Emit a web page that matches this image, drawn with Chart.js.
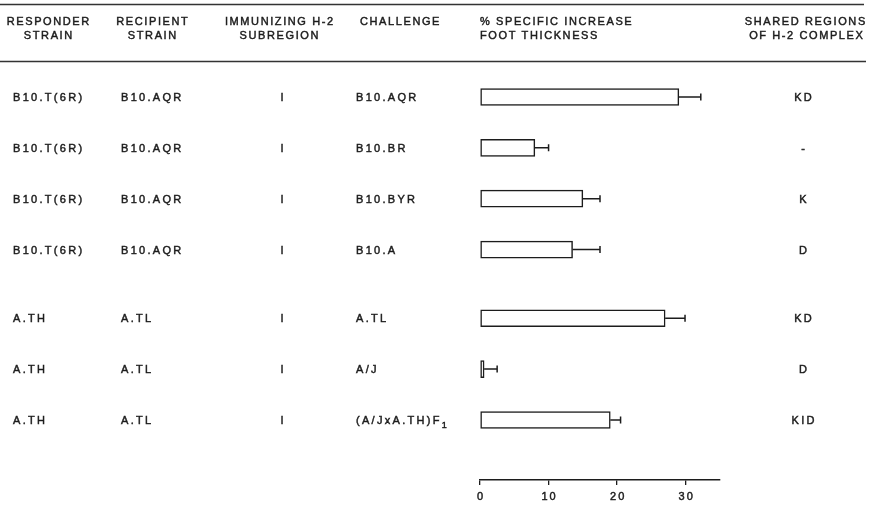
<!DOCTYPE html>
<html>
<head>
<meta charset="utf-8">
<script src="https://cdn.jsdelivr.net/npm/chart.js@4/dist/chart.umd.min.js"></script>
<style>
  html, body { margin: 0; padding: 0; background: #fff; }
  #wrap { width: 871px; height: 505px; position: relative; }
</style>
</head>
<body>
<div id="wrap"><canvas id="c" width="871" height="505"></canvas></div>
<script>
// Table columns, one entry per experiment row
const responder = ['B10.T(6R)', 'B10.T(6R)', 'B10.T(6R)', 'B10.T(6R)', 'A.TH', 'A.TH', 'A.TH'];
const recipient = ['B10.AQR', 'B10.AQR', 'B10.AQR', 'B10.AQR', 'A.TL', 'A.TL', 'A.TL'];
const subregion = ['I', 'I', 'I', 'I', 'I', 'I', 'I'];
const challenge = ['B10.AQR', 'B10.BR', 'B10.BYR', 'B10.A', 'A.TL', 'A/J', '(A/JxA.TH)F'];
const challengeSub = ['', '', '', '', '', '', '1'];
const shared = ['KD', '-', 'K', 'D', 'KD', 'D', 'KID'];
const group = [0, 0, 0, 0, 1, 1, 1];

// % specific increase in foot thickness and its error
const increase = [29, 8, 15, 13.5, 27, 0.6, 19];
const sem = [3.2, 2.0, 2.5, 4.0, 2.9, 1.9, 1.5];

const xTicks = [0, 10, 20, 30];

// Row slot on the vertical axis: rows are evenly spaced, groups separated by a small extra gap
const GROUP_GAP = 0.35;
const rowPos = increase.map((_, i) => i + group[i] * GROUP_GAP);

const INK = '#1c1c1c';
const FONT = '"Liberation Sans", Arial, sans-serif';

function txt(ctx, s, x, y, align, size, spacing) {
  ctx.save();
  ctx.font = size + 'px ' + FONT;
  ctx.letterSpacing = spacing + 'px';
  ctx.fillStyle = INK;
  ctx.strokeStyle = INK;
  ctx.lineWidth = 0.45;
  ctx.textBaseline = 'alphabetic';
  const w = ctx.measureText(s).width - spacing;
  let left = x;
  if (align === 'center') left = x - w / 2;
  else if (align === 'right') left = x - w;
  ctx.textAlign = 'left';
  ctx.fillText(s, left, y);
  ctx.strokeText(s, left, y);
  ctx.restore();
  return left + w + spacing;
}

const errorBars = {
  id: 'errorBars',
  afterDatasetsDraw(chart) {
    const ctx = chart.ctx, xs = chart.scales.x, ys = chart.scales.y;
    ctx.save();
    ctx.strokeStyle = INK;
    ctx.lineWidth = 1.5;
    increase.forEach((v, i) => {
      const x0 = xs.getPixelForValue(v);
      const x1 = xs.getPixelForValue(v + sem[i]);
      const y = ys.getPixelForValue(rowPos[i]);
      ctx.beginPath();
      ctx.moveTo(x0, y);
      ctx.lineTo(x1, y);
      ctx.moveTo(x1, y - 3.5);
      ctx.lineTo(x1, y + 3.5);
      ctx.stroke();
    });
    ctx.restore();
  }
};

const table = {
  id: 'table',
  afterDraw(chart) {
    const ctx = chart.ctx, xs = chart.scales.x, ys = chart.scales.y;
    // header rules
    ctx.save();
    ctx.strokeStyle = '#333';
    ctx.lineWidth = 1.3;
    ctx.beginPath();
    ctx.moveTo(0, 4.5); ctx.lineTo(864, 4.5);
    ctx.moveTo(0, 61.5); ctx.lineTo(866, 61.5);
    ctx.stroke();
    ctx.restore();

    const H = 11, HS = 1.6;
    txt(ctx, 'RESPONDER', 48, 25, 'center', H, HS);
    txt(ctx, 'STRAIN', 48, 39, 'center', H, HS);
    txt(ctx, 'RECIPIENT', 152, 25, 'center', H, HS);
    txt(ctx, 'STRAIN', 152, 39, 'center', H, HS);
    txt(ctx, 'IMMUNIZING H-2', 279, 25, 'center', H, HS);
    txt(ctx, 'SUBREGION', 279, 39, 'center', H, HS);
    txt(ctx, 'CHALLENGE', 360, 25, 'left', H, HS);
    txt(ctx, '% SPECIFIC INCREASE', 480, 25, 'left', H, HS);
    txt(ctx, 'FOOT THICKNESS', 480, 39, 'left', H, HS);
    txt(ctx, 'SHARED REGIONS', 805, 25, 'center', H, HS);
    txt(ctx, 'OF H-2 COMPLEX', 806, 39, 'center', H, HS);

    const R = 11, RS = 2.3;
    rowPos.forEach((p, i) => {
      const y = ys.getPixelForValue(p) + 4;
      txt(ctx, responder[i], 13, y, 'left', R, RS);
      txt(ctx, recipient[i], 121, y, 'left', R, RS);
      txt(ctx, subregion[i], 282, y, 'center', R, RS);
      const end = txt(ctx, challenge[i], 356, y, 'left', R, RS);
      if (challengeSub[i]) txt(ctx, challengeSub[i], end, y + 4, 'left', 9, 0);
      txt(ctx, shared[i], 803, y, 'center', R, RS);
    });

    // value axis labels, placed by the x scale
    xTicks.forEach(v => txt(ctx, String(v), xs.getPixelForValue(v), 499.5, 'center', 11, 2));
  }
};

new Chart(document.getElementById('c'), {
  type: 'bar',
  data: {
    datasets: [{
      data: increase.map((v, i) => ({ x: v, y: rowPos[i] })),
      backgroundColor: '#ffffff',
      borderColor: INK,
      borderWidth: 1.5,
      borderSkipped: false,
      barThickness: 17
    }]
  },
  options: {
    indexAxis: 'y',
    responsive: false,
    animation: false,
    devicePixelRatio: 1,
    layout: { padding: { left: 480, right: 151, top: 70, bottom: 0 } },
    plugins: { legend: { display: false }, tooltip: { enabled: false } },
    scales: {
      x: {
        type: 'linear',
        position: 'bottom',
        min: 0,
        max: 35,
        offset: false,
        grid: { drawOnChartArea: false, drawTicks: true, tickLength: 5, tickColor: INK, lineWidth: 1.3 },
        border: { display: true, color: INK, width: 1.5 },
        ticks: { stepSize: 10, includeBounds: false, display: false },
        afterBuildTicks(s) { s.ticks = xTicks.map(v => ({ value: v })); },
        afterFit(s) { s.height = 25; }
      },
      y: {
        type: 'linear',
        display: false,
        reverse: true,
        offset: false,
        grid: { offset: false },
        min: -0.53,
        max: 7.53
      }
    }
  },
  plugins: [errorBars, table]
});
</script>
</body>
</html>
